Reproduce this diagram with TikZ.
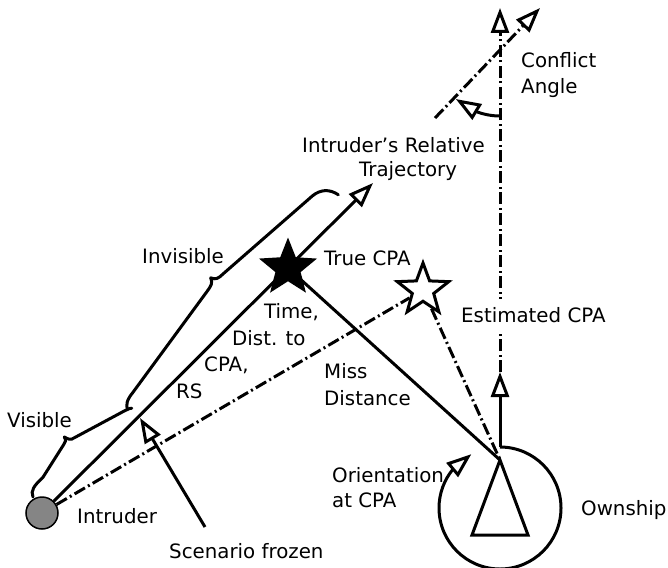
\documentclass[tikz,border=0pt]{standalone}
\usepackage{fontspec}
\setmainfont{DejaVu Sans}
\usetikzlibrary{arrows.meta,shapes.geometric,bending,calc}
\begin{document}
\begin{tikzpicture}[x=1pt,y=-1pt,
  lbl/.style={anchor=base west, inner sep=0pt, font=\fontsize{19.8}{24}\selectfont},
  ln/.style={line width=3pt},
  dd/.style={line width=3pt, dash pattern=on 12pt off 3.5pt on 2pt off 3.5pt},
  oarrow/.style={-{Triangle[open, length=25pt, width=18pt]}},
  bracepath/.style={line width=3pt, line cap=round, line join=round}
]
\useasboundingbox (0,0) rectangle (668,567);
% positions
\coordinate (trajtip) at (373,183);
\coordinate (apex) at (500,460);
\coordinate (bl) at (472,535);
\coordinate (br) at (528,535);
\coordinate (own) at (500,508);
\coordinate (owntop) at (500,447);
\coordinate (owntip) at (500,372);
\coordinate (toptip) at (500,8);
\coordinate (slA) at (435,118);
\coordinate (slB) at (540,8);
\coordinate (cfs) at (500,116);
\coordinate (frz) at (205,527);
\coordinate (frztip) at (140,418);

\node[circle, draw, line width=1.5pt, fill=black!48, minimum size=32pt, inner sep=0pt] (intruder) at (42,513) {};
\node[star, star points=5, star point ratio=2.3, fill=black, minimum size=61pt, inner sep=0pt] (cpa) at (288,268) {};
\node[star, star points=5, star point ratio=2.4, draw, line width=3pt, fill=white, minimum size=54pt, inner sep=0pt] (est) at (423,290) {};

% trajectory
\draw[ln, oarrow] (intruder.45) -- (trajtip);
% miss distance
\draw[ln] (cpa.center) -- (apex);
% estimated lines
\draw[dd] (intruder) -- (est);
\draw[dd] (est) -- (apex);
% ownship
\draw[ln, line join=miter] (apex) -- (bl) -- (br) -- cycle;
\draw[ln, oarrow] (owntop) arc[start angle=90, end angle=-242, radius=61pt];
\draw[ln, oarrow] (owntop) -- (owntip);
\draw[dd, oarrow] (owntip) -- (toptip);
% conflict angle
\draw[dd, oarrow] (slA) -- (slB);
\draw[ln, oarrow] (cfs) arc[start angle=-90, end angle=-132, radius=66pt];
% scenario frozen
\draw[ln, oarrow] (frz) -- (frztip);

% braces
\begin{scope}[shift={(53,502)}, rotate=45]
\draw[bracepath] (-10.6,-17.7) .. controls (-8,-24) and (-2,-25) .. (10,-24.5)
  -- (48,-33) .. controls (51,-33.5) and (53,-34) .. (54,-38)
  .. controls (55,-34) and (56,-31) .. (60,-30.5)
  -- (113,-14.5) .. controls (118,-13) and (121,-12) .. (122,-10.6);
\draw[bracepath] (118,-12.5) .. controls (120,-17) and (124,-20) .. (134,-21)
  -- (258,-40) .. controls (265,-41) and (268,-42) .. (270,-47)
  .. controls (272,-42) and (275,-41) .. (282,-41)
  -- (400,-33) .. controls (410,-32) and (417,-26) .. (419,-15.5);
\end{scope}

% labels
\node[lbl] (lconf) at (521,68) {Conflict};
\node[lbl] (lang) at (521,93) {Angle};
\node[lbl] (lirt1) at (302,152) {Intruder’s Relative};
\node[lbl] (lirt2) at (359,176) {Trajectory};
\node[lbl] (linv) at (142,263) {Invisible};
\node[lbl] (ltrue) at (324,265) {True CPA};
\node[lbl] (ltime) at (264,318) {Time,};
\node[lbl] (ldist) at (232,345) {Dist. to};
\node[lbl] (lcpa) at (204,371) {CPA,};
\node[lbl] (lrs) at (176,398) {RS};
\node[lbl] (lmiss) at (324,378) {Miss};
\node[lbl] (ldistance) at (324,405) {Distance};
\node[lbl, fill=white, inner ysep=8pt] (lest) at (461,322) {Estimated CPA};
\node[lbl] (lor1) at (332,482) {Orientation};
\node[lbl] (lor2) at (332,507) {at CPA};
\node[lbl] (lown) at (581,515) {Ownship};
\node[lbl] (lint) at (77,523) {Intruder};
\node[lbl] (lvis) at (7,427) {Visible};
\node[lbl] (lfrz) at (169,558) {Scenario frozen};
\end{tikzpicture}
\end{document}
